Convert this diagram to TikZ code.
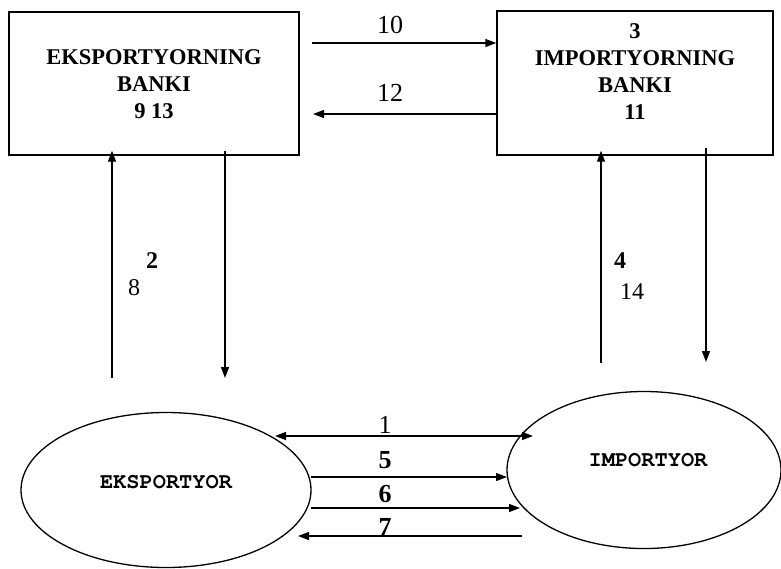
\documentclass[tikz,border=0pt]{standalone}
\usepackage{fontspec}
\setmainfont{Liberation Serif}
\newfontfamily\partyfont{TeX Gyre Cursor}
\usetikzlibrary{arrows.meta,shapes.geometric}

\tikzset{
  bank/.style={draw, line width=1.4pt, inner sep=0pt},
  banktext/.style={inner sep=0pt, align=center,
    font=\fontsize{22.5}{27}\selectfont\bfseries},
  party/.style={draw, ellipse, line width=1.3pt, inner sep=0pt},
  partyname/.style={inner sep=0pt, font=\fontsize{22}{24}\selectfont\partyfont\bfseries},
  flow/.style={line width=1.3pt, -{Triangle[length=11pt,width=8pt]}},
  twoway/.style={line width=1.3pt, {Triangle[length=11pt,width=8pt]}-{Triangle[length=11pt,width=8pt]}},
  num/.style={font=\fontsize{26}{28}\selectfont, inner sep=0pt},
  bnum/.style={font=\fontsize{26}{28}\selectfont\bfseries, inner sep=0pt},
  snum/.style={font=\fontsize{24}{28}\selectfont, inner sep=0pt},
  sbnum/.style={font=\fontsize{24}{28}\selectfont\bfseries, inner sep=0pt}
}

\begin{document}
\begin{tikzpicture}[x=1pt,y=-1pt]
\useasboundingbox (0,0) rectangle (781,568);

% banks
\node[bank, minimum width=290pt, minimum height=143pt] (lb) at (154,83.5) {};
\node[banktext] (lbt) at (154,84) {EKSPORTYORNING\\BANKI\\9 13};
\node[bank, minimum width=276pt, minimum height=144pt] (rb) at (635,83) {};
\node[banktext] (rbt) at (635,72) {3\\IMPORTYORNING\\BANKI\\11};

% parties
\node[party, minimum width=290pt, minimum height=155pt] (ex) at (166,490) {};
\node[partyname] (ext) at (166,482) {EKSPORTYOR};
\node[party, minimum width=274pt, minimum height=157pt] (im) at (644,470) {};
\node[partyname] (imt) at (648,460) {IMPORTYOR};

% bank to bank
\coordinate (a10) at (312,43);
\draw[flow] (a10) -- (a10 -| rb.west);
\coordinate (a12) at (313,114);
\draw[flow] (a12 -| rb.west) -- (a12);
\node[num] (n10) at (390,25) {10};
\node[num] (n12) at (390,93) {12};

% exporter and its bank
\coordinate (u2) at (112,378);
\draw[flow] (u2) -- ([yshift=5pt]u2 |- lb.south);
\coordinate (d2) at (225,378);
\draw[flow] ([yshift=5pt]d2 |- lb.south) -- (d2);
\node[sbnum] (n2) at (152,261) {2};
\node[snum] (n8) at (134,288) {8};

% importer and its bank
\coordinate (u4) at (601,363);
\draw[flow] (u4) -- ([yshift=5pt]u4 |- rb.south);
\coordinate (d4) at (706,362);
\draw[flow] ([yshift=8pt]d4 |- rb.south) -- (d4);
\node[sbnum] (n4) at (620,261) {4};
\node[snum] (n14) at (632,292) {14};

% exporter and importer
\coordinate (f1a) at (275,436);
\coordinate (f1b) at (533,436);
\draw[twoway] (f1a) -- (f1b);
\coordinate (f5a) at (311,477);
\coordinate (f5b) at (507,477);
\draw[flow] (f5a) -- (f5b);
\coordinate (f6a) at (311,508);
\coordinate (f6b) at (520,508);
\draw[flow] (f6a) -- (f6b);
\coordinate (f7a) at (522,536);
\coordinate (f7b) at (298,536);
\draw[flow] (f7a) -- (f7b);
\node[num] (n1) at (385,425) {1};
\node[bnum] (n5) at (385,460) {5};
\node[bnum] (n6) at (385,494) {6};
\node[bnum] (n7) at (385,527) {7};
\end{tikzpicture}
\end{document}
